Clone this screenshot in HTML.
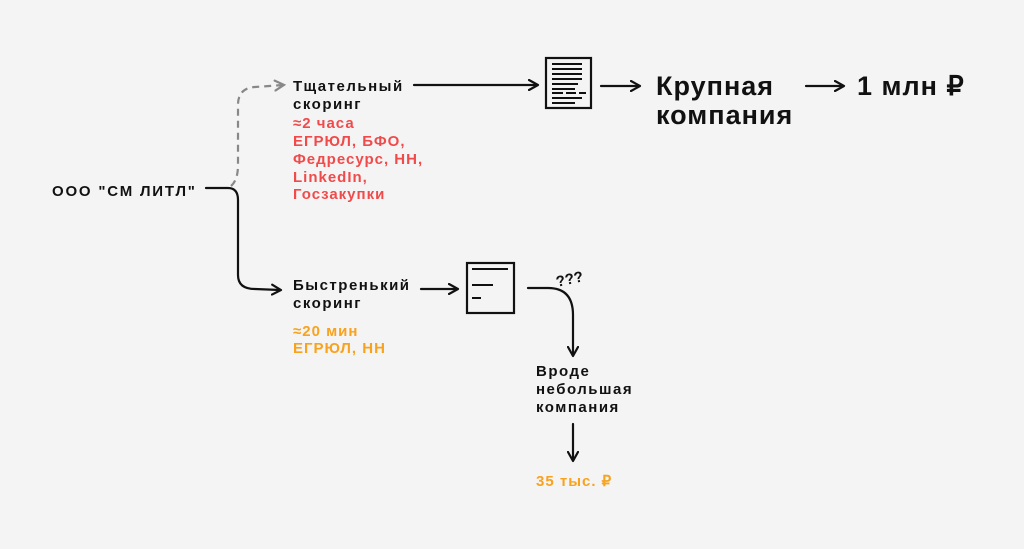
<!DOCTYPE html>
<html><head><meta charset="utf-8"><style>
html,body{margin:0;padding:0;background:#f4f4f4;}
svg{display:block}
text{font-family:"Liberation Sans","Noto Sans CJK SC",sans-serif;font-weight:bold;}
</style></head><body>
<svg width="1024" height="549" viewBox="0 0 1024 549" xmlns="http://www.w3.org/2000/svg">
<rect width="1024" height="549" fill="#f4f4f4"/>
<defs>
<marker id="a" markerWidth="12" markerHeight="12" refX="9" refY="6" orient="auto" markerUnits="userSpaceOnUse"><path d="M1,1 L10,6 L1,11" fill="none" stroke="#111" stroke-width="2.2" stroke-linecap="round" stroke-linejoin="round"/></marker>
<marker id="g" markerWidth="12" markerHeight="12" refX="9" refY="6" orient="auto" markerUnits="userSpaceOnUse"><path d="M1,1 L10,6 L1,11" fill="none" stroke="#888" stroke-width="2.2" stroke-linecap="round"/></marker>
</defs>
<g font-size="15" fill="#111" letter-spacing="1.5">
<text x="52" y="196" letter-spacing="1.8">ООО "СМ ЛИТЛ"</text>
<text x="293" y="91">Тщательный</text>
<text x="293" y="109">скоринг</text>
<text x="293" y="290">Быстренький</text>
<text x="293" y="308">скоринг</text>
<text x="536" y="376">Вроде</text>
<text x="536" y="394">небольшая</text>
<text x="536" y="412">компания</text>
</g>
<g font-size="15" fill="#f04a4a" letter-spacing="1">
<text x="293" y="128">≈2 часа</text>
<text x="293" y="146">ЕГРЮЛ, БФО,</text>
<text x="293" y="164">Федресурс, НН,</text>
<text x="293" y="182">LinkedIn,</text>
<text x="293" y="199">Госзакупки</text>
</g>
<g font-size="15" fill="#f8a21d" letter-spacing="1">
<text x="293" y="336">≈20 мин</text>
<text x="293" y="353">ЕГРЮЛ, НН</text>
<text x="536" y="486">35 тыс. ₽</text>
</g>
<g font-size="27" fill="#111" letter-spacing="1">
<text x="656" y="95">Крупная</text>
<text x="656" y="124">компания</text>
<text x="857" y="95">1 млн ₽</text>
</g>
<text x="556" y="284" font-size="15" fill="#111" transform="rotate(-12 570 280)">???</text>
<g fill="none" stroke="#111" stroke-width="2.2" stroke-linecap="round">
<path d="M206,188 L228,188 Q238,188 238,200 L238,275 Q238,289 255,289 L280,290" marker-end="url(#a)"/>
<path d="M414,85 L537,85" marker-end="url(#a)"/>
<path d="M601,86 L639,86" marker-end="url(#a)"/>
<path d="M806,86 L843,86" marker-end="url(#a)"/>
<path d="M421,289 L457,289" marker-end="url(#a)"/>
<path d="M528,288 L548,288 Q573,288 573,315 L573,355" marker-end="url(#a)"/>
<path d="M573,424 L573,460" marker-end="url(#a)"/>
<rect x="546" y="58" width="45" height="50"/>
<rect x="467" y="263" width="47" height="50"/>
</g>
<path d="M231,186 Q238,180 238,165 L238,105 Q238,88 255,87 L283,85" fill="none" stroke="#888" stroke-width="2.2" stroke-dasharray="7 5" marker-end="url(#g)"/>
<g stroke="#111" stroke-width="2">
<path d="M552,64 H582 M552,69 H582 M552,74 H582 M552,79 H582 M552,84 H578 M552,89 H575 M552,93 H563 M566,93 H576 M579,93 H586 M552,98 H582 M552,103 H575"/>
<path d="M472,269 H508 M472,285 H493 M472,298 H481"/>
</g>
</svg>
</body></html>
